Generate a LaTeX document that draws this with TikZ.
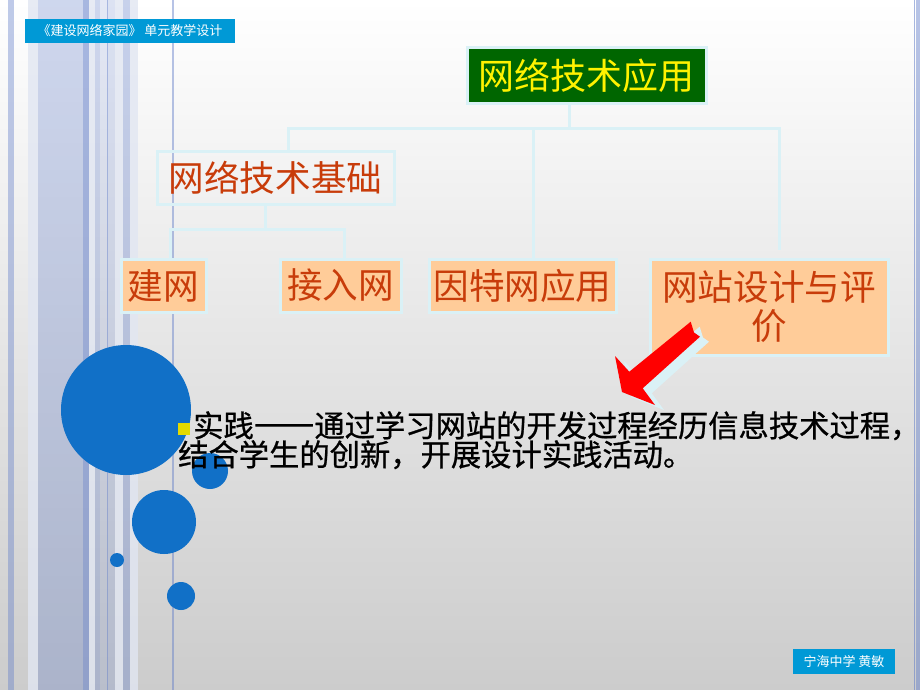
\documentclass[tikz,border=0pt]{standalone}
\usepackage{fontspec}
\setmainfont{Noto Sans CJK SC}
\usetikzlibrary{calc}

\definecolor{hdrblue}{RGB}{0,153,214}
\definecolor{rootgreen}{RGB}{0,102,0}
\definecolor{peach}{RGB}{255,204,153}
\definecolor{brick}{RGB}{200,60,10}
\definecolor{lineC}{RGB}{218,241,246}
\definecolor{dotblue}{RGB}{17,112,199}
\definecolor{stripe}{RGB}{96,124,200}
\definecolor{paleC}{RGB}{225,230,242}
\definecolor{bulletY}{RGB}{228,218,0}

\tikzset{
  link/.style={draw=lineC,line width=3pt},
  tag/.style={fill=hdrblue,text=white,inner sep=0pt,font=\fontsize{13}{15}\selectfont},
  dot/.style={fill=dotblue}
}

\newcommand{\redarrow}{(690.7,321.7) -- (629.3,371.7) -- (615,356) -- (622,392) -- (655,405) -- (642.7,388.3) -- (700,336.7) -- (694,332.5) -- cycle}

\begin{document}
\begin{tikzpicture}[x=1pt,y=-1pt]

      \useasboundingbox (0,0) rectangle (920,690);
      \shade[top color=white,middle color={rgb,255:red,238;green,238;blue,238},bottom color={rgb,255:red,204;green,204;blue,204}]
        (0,0) rectangle (920,690);

      % stripes on the left
      \foreach \xa/\xb/\op in {8/14/0.4, 38/83/0.3, 83/89/0.55, 95/100/0.3, 100/107/0.17,
                               107/108/0.55, 108/115/0.22, 123/130/0.35}
        \fill[stripe,opacity=\op] (\xa,0) rectangle (\xb,690);
      \foreach \xa/\xb in {28/38, 89/95, 115/123, 130/138}
        \fill[paleC,opacity=0.8] (\xa,0) rectangle (\xb,690);
      \fill[stripe,opacity=0.45] (172,0) rectangle (174,690);
      \fill[stripe,opacity=0.55] (913.5,0) rectangle (914.5,690);
      \fill[stripe,opacity=0.45] (916,0) rectangle (920,690);

      \node[tag,minimum width=210pt,minimum height=24pt] (header) at (130,31) {《建设网络家园》 单元教学设计};
      \node[tag,minimum width=102pt,minimum height=25pt] (footer) at (844,661.5) {宁海中学 黄敏};

      % circles
      \fill[dot] (126,410) circle (65);
      \fill[dot] (210,471) circle (18);
      \fill[dot] (164,522) circle (32);
      \fill[dot] (117,560) circle (7);
      \fill[dot] (181,596) circle (14);

      \node[draw=lineC,line width=3pt,fill=rootgreen,text=yellow,inner sep=0pt,
            minimum width=239pt,minimum height=56pt,font=\fontsize{36}{40}\selectfont] (root) at (586.5,76) {网络技术应用};

      \begin{scope}[every node/.style={draw=lineC,line width=3pt,text=brick,inner sep=0pt,
                                      minimum height=53pt,font=\fontsize{35.6}{39}\selectfont}]
        \node[minimum width=237pt] (base) at (275.5,177.5) {网络技术基础};
        \node[fill=peach,minimum width=85pt]  (jianwang) at (163.5,285.5) {建网};
        \node[fill=peach,minimum width=121pt] (jieru)    at (340.5,285.5) {接入网};
        \node[fill=peach,minimum width=187pt] (yinte)    at (522.5,285.5) {因特网应用};
        \node[fill=peach,minimum width=238pt,minimum height=96pt,align=center] (zhandian) at (769,307) {网站设计与评\\价};
      \end{scope}

      \coordinate (rootDrop) at (569,128);
      \coordinate (busL) at (288,128);
      \coordinate (busM) at (533,128);
      \coordinate (busR) at (779,128);
      \coordinate (siteTop) at (779,250);
      \coordinate (subL) at (170,229);
      \coordinate (subM) at (265,229);
      \coordinate (subR) at (344,229);

      \draw[link] (rootDrop |- root.south) -- (rootDrop);
      \draw[link] (busL |- base.north) -- (busL) -- (busR) -- (siteTop);
      \draw[link] (busM) -- (busM |- yinte.north);
      \draw[link] (subM |- base.south) -- (subM);
      \draw[link] (subL |- jianwang.north) -- (subL) -- (subR) -- (subR |- jieru.north);

      % pointer
      \fill[lineC,shift={(9,5)}] \redarrow;
      \fill[red] \redarrow;

      \fill[bulletY] (178,423) rectangle (190,435);
      \node[anchor=north west,align=left,inner sep=0pt,font=\fontsize{30.3}{29}\selectfont\addfontfeatures{FakeBold=0.8}] (practice) at (178,411)
        {\hspace*{15pt}实践{\addfontfeatures{RawFeature=+fwid,FakeBold=4}——}通过学习网站的开发过程经历信息技术过程，\\结合学生的创新，开展设计实践活动。};

\end{tikzpicture}
\end{document}
